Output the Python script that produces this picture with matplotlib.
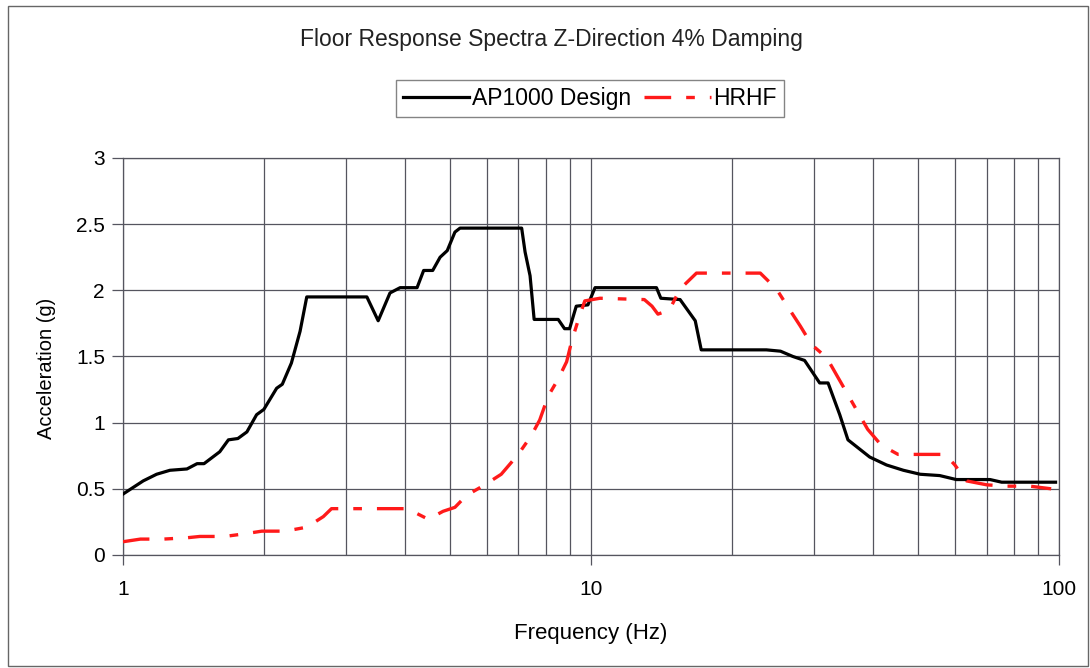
import matplotlib.pyplot as plt
from matplotlib.patches import Rectangle
from matplotlib.ticker import LogLocator, NullFormatter, FixedLocator

plt.rcParams['font.family'] = ['Liberation Sans', 'DejaVu Sans']

# AP1000 design floor response spectrum (frequency Hz, acceleration g)
ap_freq = [1.0, 1.105, 1.18, 1.26, 1.37, 1.44, 1.49, 1.61, 1.68, 1.76, 1.84, 1.93,
           2.0, 2.13, 2.19, 2.29, 2.39, 2.47, 3.32, 3.51, 3.72, 3.91, 4.25, 4.39,
           4.59, 4.76, 4.93, 5.12, 5.25, 7.11, 7.23, 7.41, 7.56, 8.51, 8.78, 9.0,
           9.3, 9.85, 10.2, 13.8, 14.1, 15.5, 16.7, 17.2, 23.7, 25.4, 27.0, 28.6,
           30.8, 32.1, 34.0, 35.4, 39.4, 42.8, 46.5, 50.5, 55.6, 60.3, 71.2, 75.4, 98.3]
ap_acc = [0.46, 0.56, 0.61, 0.64, 0.65, 0.69, 0.69, 0.78, 0.87, 0.88, 0.93, 1.06,
          1.10, 1.26, 1.29, 1.45, 1.69, 1.95, 1.95, 1.77, 1.98, 2.02, 2.02, 2.15,
          2.15, 2.25, 2.30, 2.44, 2.47, 2.47, 2.29, 2.11, 1.78, 1.78, 1.71, 1.71,
          1.88, 1.89, 2.02, 2.02, 1.94, 1.93, 1.77, 1.55, 1.55, 1.54, 1.50, 1.47,
          1.30, 1.30, 1.06, 0.87, 0.74, 0.68, 0.64, 0.61, 0.60, 0.57, 0.57, 0.55, 0.55]

# HRHF floor response spectrum
hr_freq = [1.0, 1.09, 1.22, 1.37, 1.46, 1.65, 1.82, 1.98, 2.22, 2.47, 2.68, 2.79,
           4.05, 4.49, 4.83, 5.12, 5.42, 5.93, 6.43, 6.99, 7.45, 7.77, 8.1, 8.51,
           8.87, 9.1, 9.4, 9.7, 10.45, 13.0, 13.5, 13.9, 14.7, 15.5, 16.8, 23.0,
           24.9, 26.5, 28.0, 29.6, 31.9, 33.6, 39.0, 41.7, 45.3, 57.1, 59.9, 63.4,
           70.1, 77.3, 86.7, 96.2]
hr_acc = [0.10, 0.12, 0.12, 0.13, 0.14, 0.14, 0.16, 0.18, 0.18, 0.21, 0.29, 0.35,
          0.35, 0.27, 0.33, 0.36, 0.45, 0.53, 0.61, 0.76, 0.90, 1.02, 1.20, 1.33,
          1.46, 1.62, 1.78, 1.92, 1.94, 1.93, 1.88, 1.82, 1.85, 2.01, 2.13, 2.13,
          2.01, 1.86, 1.73, 1.59, 1.49, 1.35, 0.95, 0.83, 0.76, 0.76, 0.68, 0.56,
          0.53, 0.52, 0.52, 0.50]

y_ticks = [0, 0.5, 1, 1.5, 2, 2.5, 3]
y_labels = ['0', '0.5', '1', '1.5', '2', '2.5', '3']

fig = plt.figure(figsize=(10.9, 6.68), dpi=100)
ax = fig.add_axes([0.1128, 0.1692, 0.8588, 0.5943])

grid_col = '#55555f'
ax.plot(ap_freq, ap_acc, color='black', lw=2.3, label='AP1000 Design', zorder=3)
ax.plot(hr_freq, hr_acc, color='#ff1a1a', lw=2.4, linestyle=(0, (8, 4.5, 2.6, 4.5)),
        label='HRHF', zorder=4)

ax.set_xscale('log')
ax.set_xlim(1, 100)
ax.set_ylim(0, 3)
ax.xaxis.set_major_locator(FixedLocator([1, 10, 100]))
ax.set_xticklabels(['1', '10', '100'])
ax.xaxis.set_minor_locator(LogLocator(base=10, subs=range(2, 10)))
ax.xaxis.set_minor_formatter(NullFormatter())
ax.set_yticks(y_ticks)
ax.set_yticklabels(y_labels)

ax.grid(True, which='both', color=grid_col, lw=0.9)
ax.set_axisbelow(True)
for s in ax.spines.values():
    s.set_color(grid_col)
    s.set_linewidth(0.9)

ax.tick_params(axis='y', length=8, width=0.9, color=grid_col, pad=5, labelsize=15)
ax.tick_params(axis='x', which='major', length=7, width=0.9, color=grid_col, pad=11, labelsize=15)
ax.tick_params(axis='x', which='minor', length=0)

ax.set_xlabel('Frequency (Hz)', fontsize=16)
ax.xaxis.set_label_coords(0.5, -0.172)
ax.set_ylabel('Acceleration (g)', fontsize=14.5)
ax.yaxis.set_label_coords(-0.072, 0.47)

fig.text(0.506, 0.941, 'Floor Response Spectra Z-Direction 4% Damping',
         ha='center', va='center', fontsize=16.5, color='#222222')

leg = fig.legend(loc='center', bbox_to_anchor=(0.541, 0.852), ncol=2, fontsize=16.5,
                 frameon=True, fancybox=False, edgecolor='#666666',
                 handlelength=2.9, handletextpad=0.1, columnspacing=0.6,
                 borderpad=0.3)
leg.get_frame().set_linewidth(1.0)

fig.patches.append(Rectangle((8 / 1090, 2 / 668), 1080 / 1090, 660 / 668,
                             transform=fig.transFigure, fill=False,
                             edgecolor='#666666', lw=1.0))

fig.savefig('out.png', dpi=100)
plt.close(fig)
